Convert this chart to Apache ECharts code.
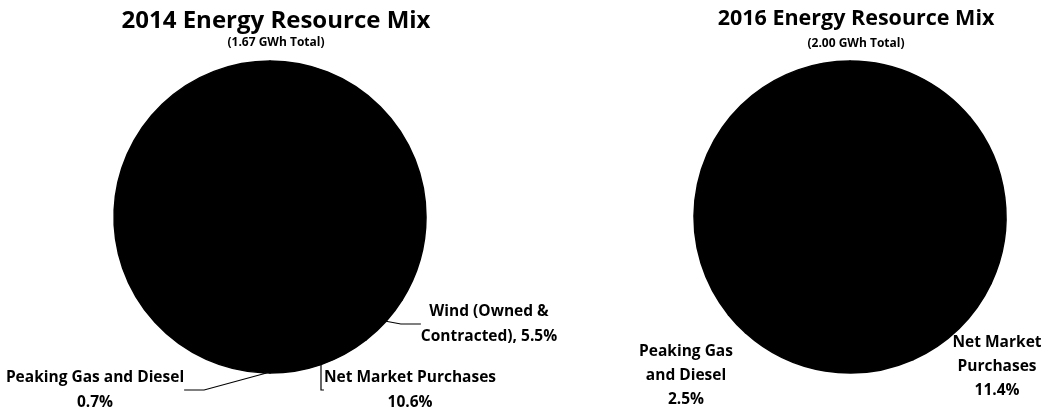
<!DOCTYPE html>
<html>
<head>
<meta charset="utf-8">
<script src="https://cdn.jsdelivr.net/npm/echarts@6/dist/echarts.min.js"></script>
<style>
  html, body { margin: 0; padding: 0; background: #fff; }
  #main { width: 1049px; height: 410px; }
</style>
</head>
<body>
<div id="main"></div>
<script>
// slices go clockwise from 12 o'clock, like the original spreadsheet pies
// unlabeled slices are unreadable in the scan (whole pie is black)
var names2014 = ['Unlabeled A', 'Wind (Owned & Contracted)', 'Net Market Purchases', 'Peaking Gas and Diesel', 'Unlabeled B'];
var values2014 = [33.9, 5.5, 10.6, 0.7, 49.3];
var labels2014 = [null, 'Wind (Owned &\nContracted), ', 'Net Market Purchases\n', 'Peaking Gas and Diesel\n', null];

var names2016 = ['Unlabeled A', 'Wind (Owned & Contracted)', 'Net Market Purchases', 'Unlabeled B', 'Peaking Gas and Diesel', 'Unlabeled C'];
var values2016 = [14.0, 18.0, 11.4, 18.3, 2.5, 35.8];
var labels2016 = [null, null, 'Net Market\nPurchases\n', null, 'Peaking Gas\nand Diesel\n', null];

var titles = ['2014 Energy Resource Mix', '2016 Energy Resource Mix'];
var subtitles = ['(1.67 GWh Total)', '(2.00 GWh Total)'];

// where the label blocks sit (centre of text block)
var labelSpots = [
    { 1: [489, 324], 2: [410, 390], 3: [95, 390] },
    { 2: [997, 367], 4: [686, 376] }
];

var font = '"Open Sans", Lato, sans-serif';

function buildData(names, values, labels) {
    return names.map(function (n, i) {
        return {
            name: n,
            value: values[i],
            label: { show: labels[i] != null },
            labelLine: { show: labels[i] != null }
        };
    });
}

function fmt(labels) {
    return function (p) {
        var t = labels[p.dataIndex];
        return t == null ? '' : t + p.value.toFixed(1) + '%';
    };
}

function layoutFor(si) {
    return function (params) {
        var spot = labelSpots[si][params.dataIndex];
        if (!spot) return {};
        return { x: spot[0], y: spot[1], align: 'center', verticalAlign: 'middle' };
    };
}

var chart = echarts.init(document.getElementById('main'));
chart.setOption({
    animation: false,
    backgroundColor: '#fff',
    title: [
        {
            text: titles[0], subtext: subtitles[0],
            left: 271, top: 4, textAlign: 'center', itemGap: 4,
            textStyle: { fontFamily: font, fontWeight: 'bold', fontSize: 24, color: '#000' },
            subtextStyle: { fontFamily: font, fontWeight: 'bold', fontSize: 12, color: '#000' }
        },
        {
            text: titles[1], subtext: subtitles[1],
            left: 851, top: 3, textAlign: 'center', itemGap: 8,
            textStyle: { fontFamily: font, fontWeight: 'bold', fontSize: 21.5, color: '#000' },
            subtextStyle: { fontFamily: font, fontWeight: 'bold', fontSize: 12, color: '#000' }
        }
    ],
    series: [
        {
            name: '2014',
            type: 'pie',
            center: [270, 217],
            radius: 156,
            startAngle: 90,
            clockwise: true,
            color: ['#000'],
            itemStyle: { color: '#000', borderColor: '#000', borderWidth: 1.5 },
            label: {
                position: 'outside',
                formatter: fmt(labels2014),
                fontFamily: font, fontWeight: 'bold', fontSize: 15.5,
                color: '#000', lineHeight: 25, align: 'center', overflow: 'none'
            },
            labelLine: { length: 10, length2: 20, lineStyle: { color: '#000', width: 1.2 } },
            labelLayout: layoutFor(0),
            emphasis: { disabled: true },
            data: buildData(names2014, values2014, labels2014)
        },
        {
            name: '2016',
            type: 'pie',
            center: [850, 217],
            radius: 156,
            startAngle: 90,
            clockwise: true,
            color: ['#000'],
            itemStyle: { color: '#000', borderColor: '#000', borderWidth: 1.5 },
            label: {
                position: 'outside',
                formatter: fmt(labels2016),
                fontFamily: font, fontWeight: 'bold', fontSize: 15.5,
                color: '#000', lineHeight: 24, align: 'center', overflow: 'none'
            },
            labelLine: { show: false },
            labelLayout: layoutFor(1),
            emphasis: { disabled: true },
            data: buildData(names2016, values2016, labels2016).map(function (d) {
                d.labelLine = { show: false };
                return d;
            })
        }
    ]
});
</script>
</body>
</html>
